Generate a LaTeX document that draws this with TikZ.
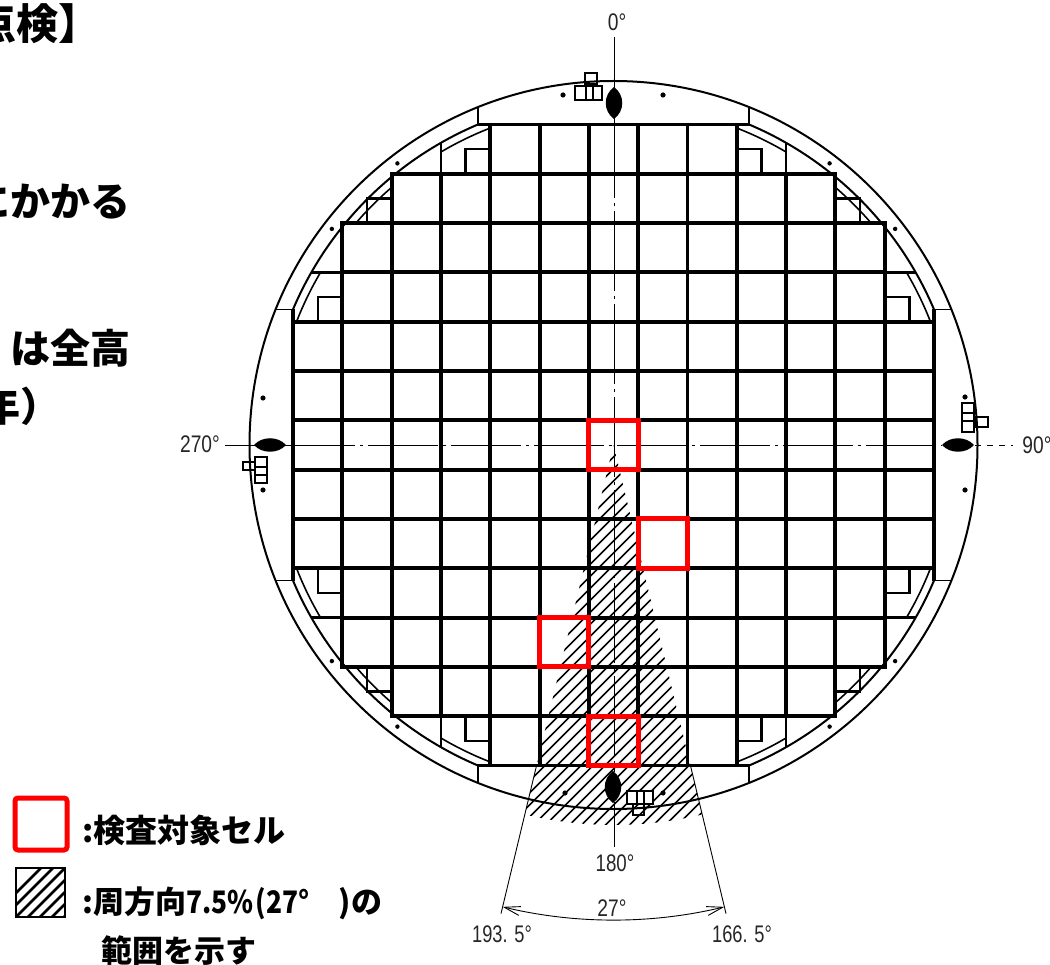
\documentclass[tikz,border=0pt]{standalone}
\usepackage{fontspec}
\setmainfont{Liberation Sans}
\newfontfamily\cjk{Noto Sans CJK JP}
\newfontfamily\lblfont{Liberation Sans}
\usetikzlibrary{arrows.meta,calc}
\begin{document}
\begin{tikzpicture}[x=1pt,y=-1pt,
  gridline/.style={line width=3.9pt},
  partline/.style={line width=2.4pt},
  ringline/.style={line width=2pt},
  thinline/.style={line width=1.6pt},
  cline/.style={line width=0.9pt},
  hatchline/.style={line width=1.6pt},
  redbox/.style={draw=red, line width=5pt},
  anglbl/.style={font=\lblfont\fontsize{24}{24}\selectfont, text=black!85, inner sep=0},
  jpb/.style={font=\cjk\bfseries\fontsize{#1}{#1}\selectfont, inner sep=0},
  dimarrow/.style={line width=0.9pt, {Straight Barb[length=16pt,width=9pt]}-{Straight Barb[length=16pt,width=9pt]}},
]
\def\CX{613.5}\def\CY{445}\def\CS{49.3}
\useasboundingbox (0,0) rectangle (1050,965);
\clip (0,0) rectangle (1050,965);

% hatched sector (27 deg)
\begin{scope}
  \clip (\CX,\CY) -- ($(\CX,\CY)+(76.5:380)$) arc[start angle=76.5,end angle=103.5,radius=380] -- cycle;
  \foreach \k in {-14,...,46}
    \draw[hatchline] ({\CX-400+\k*12},{\CY+400}) -- ++(800,-800);
\end{scope}

% full cells
\foreach \r/\cmin/\cmax in {-6/-2/2,-5/-4/4,-4/-5/5,-3/-5/5,-2/-6/6,-1/-6/6,0/-6/6,1/-6/6,2/-6/6,3/-5/5,4/-5/5,5/-4/4,6/-2/2}
  \foreach \c in {\cmin,...,\cmax}
    \draw[gridline] ({\CX+(\c-0.5)*\CS},{\CY+(\r-0.5)*\CS}) rectangle ++(\CS,\CS);

% partial cells along the ring
\foreach \c/\r in {-3/-6,3/-6,-3/6,3/6,-5/-5,5/-5,-5/5,5/5,-6/-3,6/-3,-6/3,6/3} {
  \pgfmathsetmacro\sx{sign(\c)}
  \pgfmathsetmacro\sy{sign(\r)}
  \pgfmathsetmacro\nx{\CX+\sx*(abs(\c)-0.5)*\CS}
  \pgfmathsetmacro\ny{\CY+\sy*(abs(\r)-0.5)*\CS}
  \begin{scope}
    \clip (\CX,\CY) circle[radius=348];
    \draw[partline] ({\CX+(\c-0.5)*\CS},{\CY+(\r-0.5)*\CS}) rectangle ++(\CS,\CS);
  \end{scope}
  \begin{scope}
    \clip ({\CX+(\c-0.5)*\CS},{\CY+(\r-0.5)*\CS}) rectangle ++(\CS,\CS);
    \draw[thinline] (\CX,\CY) circle[radius=340];
  \end{scope}
  \draw[partline] (\nx,\ny) rectangle ++({\sx*\CS/2},{\sy*\CS/2});
}

% outer shell and inner ring
\draw[ringline] (\CX,\CY) circle[radius=364];
\foreach \q in {0,90,180,270}
  \draw[ringline] ($(\CX,\CY)+({\q+22.9}:348)$) arc[start angle={\q+22.9}, end angle={\q+67.1}, radius=348];
\foreach \a in {37.5,52.5,127.5,142.5,217.5,232.5,307.5,322.5}
  \fill ($(\CX,\CY)+(\a:355)$) circle[radius=2.2];

% flat plates at 0/90/180/270
\foreach \q in {0,90,180,270} {
  \begin{scope}[rotate around={\q:(\CX,\CY)}]
    \draw[gridline] ({\CX-135.6},{\CY-320.5}) -- ({\CX+135.6},{\CY-320.5});
    \draw[thinline] ({\CX-135.6},{\CY-320.5}) -- ({\CX-135.6},{\CY-338});
    \draw[thinline] ({\CX+135.6},{\CY-320.5}) -- ({\CX+135.6},{\CY-338});
  \end{scope}
}

% centre lines
\draw[cline] (614,37) -- (614,88);
\draw[cline, dash pattern=on 80pt off 5pt on 3pt off 5pt] (614,118) -- (614,772);
\draw[cline] (614,802) -- (614,847);
\draw[cline] (225,445) -- (255,445);
\draw[cline, dash pattern=on 70pt off 5pt on 3pt off 5pt] (285,445) -- (942,445);
\draw[cline, dash pattern=on 6pt off 6pt] (975,445) -- (1013,445);

% lugs
\fill (614,87) .. controls (625,95) and (625,111) .. (614,119) .. controls (603,111) and (603,95) .. (614,87);
\fill (613,771) .. controls (624,779) and (624,795) .. (613,803) .. controls (602,795) and (602,779) .. (613,771);
\fill (254,445) .. controls (262,436) and (278,436) .. (286,445) .. controls (278,454) and (262,454) .. (254,445);
\fill (942,445) .. controls (950,436) and (966,436) .. (974,445) .. controls (966,454) and (950,454) .. (942,445);

% brackets
\draw[line width=1.6pt] (585,73) rectangle (597,84);
\draw[line width=1.6pt, fill=white] (575,86) rectangle (602,100);
\draw[line width=1.6pt] (586,86) -- (586,100) (593,86) -- (593,100);
\draw[line width=1.6pt] (243,462) rectangle (255,470);
\draw[line width=1.6pt, fill=white] (255,457) rectangle (267,483);
\draw[line width=1.6pt] (255,467) -- (267,467) (255,475) -- (267,475);
\draw[line width=1.6pt] (975,417) rectangle (988,427);
\draw[line width=1.6pt, fill=white] (962,403) rectangle (974,432);
\draw[line width=1.6pt] (962,413) -- (974,413) (962,421) -- (974,421);
\draw[line width=1.6pt] (633,804) rectangle (644,815);
\draw[line width=1.6pt, fill=white] (627,791) rectangle (653,804);
\draw[line width=1.6pt] (637,791) -- (637,804) (644,791) -- (644,804);

% bolt dots
\foreach \p in {(563,95),(663,95),(263,398),(263,490),(965,397),(965,490),(565,793),(663,793)}
  \fill \p circle[radius=2.6];

% inspected cells
\draw[redbox] ({\CX-0.5*\CS},{\CY-0.5*\CS}) rectangle ++(\CS,\CS);
\draw[redbox] ({\CX+0.5*\CS},{\CY+1.5*\CS}) rectangle ++(\CS,\CS);
\draw[redbox] ({\CX-1.5*\CS},{\CY+3.5*\CS}) rectangle ++(\CS,\CS);
\draw[redbox] ({\CX-0.5*\CS},{\CY+5.5*\CS}) rectangle ++(\CS,\CS);

% sector limits and dimension
\draw[cline] ($(\CX,\CY)+(76.5:330)$) -- ($(\CX,\CY)+(76.5:482)$);
\draw[cline] ($(\CX,\CY)+(103.5:330)$) -- ($(\CX,\CY)+(103.5:482)$);
\draw[dimarrow] ($(\CX,\CY)+(103.5:475)$) arc[start angle=103.5, end angle=76.5, radius=475];

% angle labels
\node[anglbl] (a0) at (617,22) {\scalebox{0.8}[1]{0°}};
\node[anglbl] (a270) at (200,444) {\scalebox{0.8}[1]{270°}};
\node[anglbl] (a90) at (1037,445) {\scalebox{0.8}[1]{90°}};
\node[anglbl] (a180) at (615,863) {\scalebox{0.78}[1]{180°}};
\node[anglbl] (a27) at (612,908) {\scalebox{0.8}[1]{27°}};
\node[anglbl] (a1935) at (502,934) {\scalebox{0.76}[1]{193. 5°}};
\node[anglbl] (a1665) at (742,934) {\scalebox{0.76}[1]{166. 5°}};

% left text (cropped)
\node[jpb=42, anchor=base west] (t1) at (-26,40) {点検】};
\node[jpb=40, anchor=base east] (t2) at (131,217) {にかかる};
\node[jpb=40, anchor=base east] (t3) at (131,364) {は全高};
\node[jpb=40, anchor=base west] (t4) at (-20,422) {年）};

% legend
\draw[draw=red, line width=5pt, rounded corners=3pt] (15,798) rectangle (67,850);
\begin{scope}
  \clip (16,868) rectangle (65,917);
  \foreach \k in {-2,...,9}
    \draw[line width=2.6pt] ({16+\k*12-10},927) -- ++(60,-60);
\end{scope}
\draw[line width=2pt] (16,868) rectangle (65,917);
\node[jpb=32, anchor=base west] (lg1) at (82,842) {:検査対象セル};
\node[jpb=31, anchor=base west] (lg2) at (82,913) {:周方向{\scalebox{0.85}[1]{7.5\%\hspace{3pt}(27°}}\hspace{29pt})の};
\node[jpb=31, anchor=base west] (lg3) at (101,962) {範囲を示す};
\end{tikzpicture}
\end{document}
